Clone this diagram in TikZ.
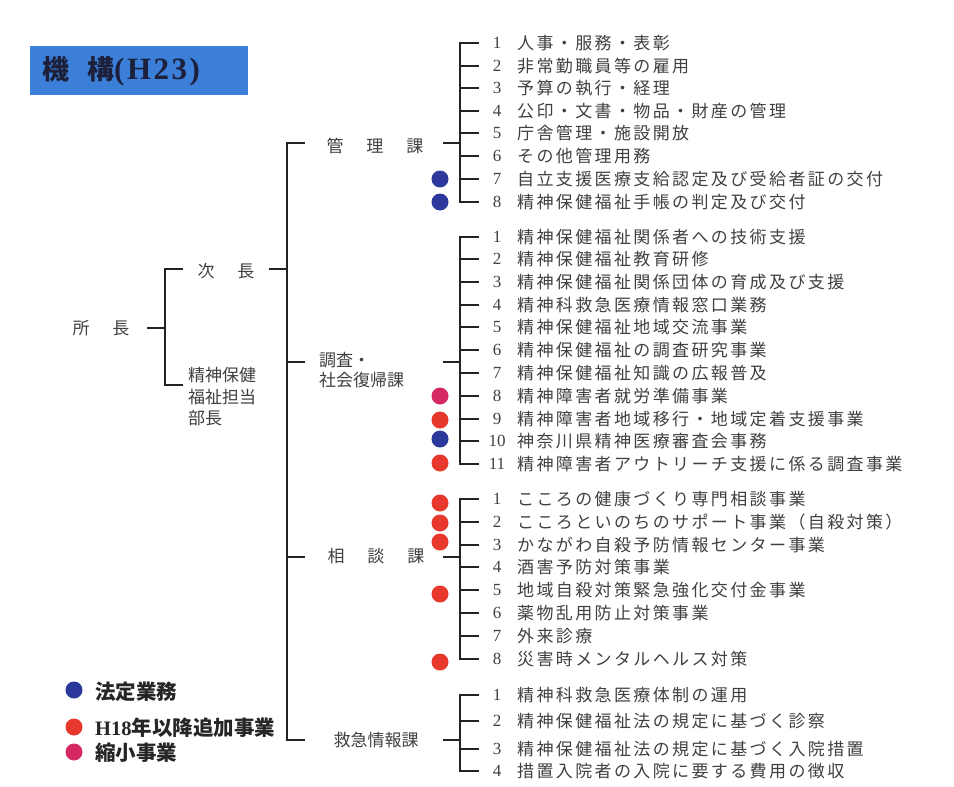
\documentclass[tikz,border=0pt]{standalone}
\usepackage{fontspec}
\setmainfont{Liberation Serif}
\newfontfamily\jp[LetterSpace=14]{Noto Sans CJK JP}
\newfontfamily\jpn{Noto Sans CJK JP}
\newfontfamily\titlelat[LetterSpace=8]{Liberation Serif}
\definecolor{tblue}{RGB}{59,127,216}
\definecolor{ttxt}{RGB}{28,32,58}
\definecolor{dblue}{RGB}{44,56,156}
\definecolor{dred}{RGB}{230,56,44}
\definecolor{dmag}{RGB}{214,40,100}
\definecolor{lncol}{RGB}{35,35,35}
\definecolor{txt}{RGB}{64,64,64}
\tikzset{
  ln/.style={draw=lncol, line width=2.4pt, line join=miter},
  item/.style={anchor=west, inner sep=0pt, text=txt, font=\jp\fontsize{17}{17}\selectfont},
  num/.style={anchor=center, inner sep=0pt, text=txt, font=\fontsize{17}{17}\selectfont},
  lab/.style={inner sep=0pt, text=txt, font=\jpn\fontsize{17}{20}\selectfont},
  dot/.style={circle, inner sep=0pt, minimum size=17pt},
  legend/.style={anchor=west, inner sep=0pt, text=black!85, font=\jpn\bfseries\fontsize{20.5}{20.5}\selectfont}
}
\begin{document}
\begin{tikzpicture}[x=1pt,y=-1pt]
\useasboundingbox (0,0) rectangle (954,787);
\fill[white] (0,0) rectangle (954,787);
% title
\fill[tblue] (30,46) rectangle (248,95);
\node[anchor=west, inner sep=0pt, text=ttxt] (title) at (42,71)
  {{\jpn\bfseries\fontsize{27}{27}\selectfont 機\hspace{18pt}構}{\titlelat\bfseries\fontsize{31}{31}\selectfont (H23)}};
% hierarchy labels
\node[lab] (shocho) at (101,328) {所\hspace{23pt}長};
\node[lab] (jicho) at (226,271) {次\hspace{23pt}長};
\node[lab, anchor=west, align=left, font=\jpn\fontsize{17}{21.5}\selectfont] (buchou) at (188,397) {精神保健\\福祉担当\\部長};
\node[lab] (kanri) at (375,146) {管\hspace{23pt}理\hspace{23pt}課};
\node[lab, anchor=west, align=left] (chosa) at (319,370) {調査・\\社会復帰課};
\node[lab] (sodan) at (376,556) {相\hspace{23pt}談\hspace{23pt}課};
\node[lab] (kyukyu) at (376,740) {救急情報課};
% tree connectors
\draw[ln] (147,328) -- (165,328);
\draw[ln] (183,269) -- (165,269) -- (165,385) -- (183,385);
\draw[ln] (269,269) -- (287,269);
\draw[ln] (305,143) -- (287,143) -- (287,740) -- (305,740);
\draw[ln] (287,362) -- (305,362);
\draw[ln] (287,557) -- (305,557);
\draw[ln] (443,143) -- (460,143);
\draw[ln] (443,362) -- (460,362);
\draw[ln] (443,557) -- (460,557);
\draw[ln] (443,740) -- (460,740);
% 管理課 items
\foreach \n/\y/\t in {1/43/人事・服務・表彰, 2/66/非常勤職員等の雇用, 3/88/予算の執行・経理, 4/111/公印・文書・物品・財産の管理, 5/133/庁舎管理・施設開放, 6/156/その他管理用務, 7/179/自立支援医療支給認定及び受給者証の交付, 8/202/精神保健福祉手帳の判定及び交付}{
  \node[num] (ka-n\n) at (497,\y) {\n};
  \node[item] (ka-t\n) at (517,\y) {\t};
}
\draw[ln] (479,43) -- (460,43) -- (460,202) -- (479,202);
\foreach \y in {66,88,111,133,156,179} \draw[ln] (460,\y) -- (479,\y);
% 調査・社会復帰課 items
\foreach \n/\y/\t in {1/237/精神保健福祉関係者への技術支援, 2/259/精神保健福祉教育研修, 3/282/精神保健福祉関係団体の育成及び支援, 4/305/精神科救急医療情報窓口業務, 5/327/精神保健福祉地域交流事業, 6/350/精神保健福祉の調査研究事業, 7/373/精神保健福祉知識の広報普及, 8/396/精神障害者就労準備事業, 9/419/精神障害者地域移行・地域定着支援事業, 10/441/神奈川県精神医療審査会事務, 11/464/精神障害者アウトリーチ支援に係る調査事業}{
  \node[num] (ch-n\n) at (497,\y) {\n};
  \node[item] (ch-t\n) at (517,\y) {\t};
}
\draw[ln] (479,237) -- (460,237) -- (460,464) -- (479,464);
\foreach \y in {259,282,305,327,350,373,396,419,441} \draw[ln] (460,\y) -- (479,\y);
% 相談課 items
\foreach \n/\y/\t in {1/499/こころの健康づくり専門相談事業, 2/522/こころといのちのサポート事業（自殺対策）, 3/545/かながわ自殺予防情報センター事業, 4/567/酒害予防対策事業, 5/590/地域自殺対策緊急強化交付金事業, 6/613/薬物乱用防止対策事業, 7/636/外来診療, 8/659/災害時メンタルヘルス対策}{
  \node[num] (so-n\n) at (497,\y) {\n};
  \node[item] (so-t\n) at (517,\y) {\t};
}
\draw[ln] (479,499) -- (460,499) -- (460,659) -- (479,659);
\foreach \y in {522,545,567,590,613,636} \draw[ln] (460,\y) -- (479,\y);
% 救急情報課 items
\foreach \n/\y/\t in {1/695/精神科救急医療体制の運用, 2/721/精神保健福祉法の規定に基づく診察, 3/749/精神保健福祉法の規定に基づく入院措置, 4/771/措置入院者の入院に要する費用の徴収}{
  \node[num] (kk-n\n) at (497,\y) {\n};
  \node[item] (kk-t\n) at (517,\y) {\t};
}
\draw[ln] (479,695) -- (460,695) -- (460,771) -- (479,771);
\foreach \y in {721,749} \draw[ln] (460,\y) -- (479,\y);
% dots
\node[dot, fill=dblue] (d1) at (440,179) {};
\node[dot, fill=dblue] (d2) at (440,202) {};
\node[dot, fill=dmag] (d3) at (440,396) {};
\node[dot, fill=dred] (d4) at (440,420) {};
\node[dot, fill=dblue] (d5) at (440,439) {};
\node[dot, fill=dred] (d6) at (440,463) {};
\node[dot, fill=dred] (d7) at (440,503) {};
\node[dot, fill=dred] (d8) at (440,523) {};
\node[dot, fill=dred] (d9) at (440,542) {};
\node[dot, fill=dred] (d10) at (440,594) {};
\node[dot, fill=dred] (d11) at (440,662) {};
% legend
\node[dot, fill=dblue] (lg1) at (74,690) {};
\node[dot, fill=dred] (lg2) at (74,727) {};
\node[dot, fill=dmag] (lg3) at (74,752) {};
\node[legend] (lt1) at (95,692) {法定業務};
\node[legend] (lt2) at (95,728) {{\rmfamily\bfseries H18}年以降追加事業};
\node[legend] (lt3) at (95,753) {縮小事業};
\end{tikzpicture}
\end{document}
